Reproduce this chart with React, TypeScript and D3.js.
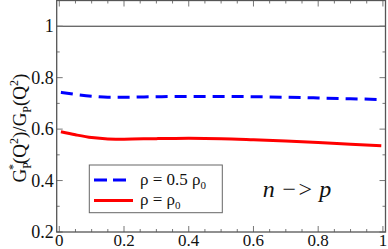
import React from "react";
import * as d3 from "d3";

const xValues = [0.005, 0.05, 0.1, 0.15, 0.2, 0.3, 0.4, 0.5, 0.6, 0.7, 0.8, 0.9, 0.995];
const halfDensity = [0.743, 0.735, 0.728, 0.724, 0.724, 0.726, 0.727, 0.727, 0.726, 0.724, 0.721, 0.718, 0.715];
const fullDensity = [0.59, 0.578, 0.567, 0.562, 0.561, 0.563, 0.564, 0.563, 0.559, 0.554, 0.548, 0.541, 0.535];
const xTicks = [0, 0.2, 0.4, 0.6, 0.8, 1];
const xTickLabels = ["0", "0.2", "0.4", "0.6", "0.8", "1"];
const yTicks = [0.2, 0.4, 0.6, 0.8, 1];
const yTickLabels = ["0.2", "0.4", "0.6", "0.8", "1"];

const W = 388, H = 249;
const L = 56.7, R = 385.5, T = 0.5, B = 232;
const FONT = '"Times New Roman", Times, "Liberation Serif", Tinos, "Nimbus Roman", "Noto Serif", "DejaVu Serif", serif';

export default function App() {
  const x = d3.scaleLinear().domain([-0.008, 1.008]).range([L, R]);
  const y = d3.scaleLinear().domain([0.2, 1.1]).range([B, T]);
  const line = d3.line<number>().x((_, i) => x(xValues[i])).y((d) => y(d)).curve(d3.curveMonotoneX);
  const xMinor = d3.range(0, 1.0001, 0.05);
  const yMinor = d3.range(0.2, 1.1001, 0.1);
  const frame = "#555";
  const ts: React.CSSProperties = { fontFamily: FONT };
  return (
    <svg width={W} height={H} style={{ position: "absolute", left: 0, top: 0, fontFamily: FONT }}>
      <rect x={0} y={0} width={W} height={H} fill="#fff" />
      <line x1={L} x2={R} y1={y(1)} y2={y(1)} stroke="#333" strokeWidth={1} />
      {xMinor.map((v, i) => {
        const major = i % 4 === 0;
        const len = major ? 6 : 3;
        return (
          <g key={"xt" + i} stroke="#777" strokeWidth={1}>
            <line x1={x(v)} x2={x(v)} y1={B} y2={B - len} />
            <line x1={x(v)} x2={x(v)} y1={T} y2={T + len} />
          </g>
        );
      })}
      {yMinor.map((v, i) => {
        const major = i % 2 === 0;
        const len = major ? 6 : 3;
        return (
          <g key={"yt" + i} stroke="#777" strokeWidth={1}>
            <line x1={L} x2={L + len} y1={y(v)} y2={y(v)} />
            <line x1={R} x2={R - len} y1={y(v)} y2={y(v)} />
          </g>
        );
      })}
      <path d={line(halfDensity) || ""} fill="none" stroke="#0000ff" strokeWidth={3} strokeDasharray="12 7" />
      <path d={line(fullDensity) || ""} fill="none" stroke="#ff0000" strokeWidth={3} />
      <rect x={L} y={T} width={R - L} height={B - T} fill="none" stroke={frame} strokeWidth={1.3} />
      {xTicks.map((v, i) => (
        <text key={"xl" + i} x={x(v)} y={246} textAnchor="middle" fontSize={17} fill="#111" style={ts}>
          {xTickLabels[i]}
        </text>
      ))}
      {yTicks.map((v, i) => (
        <text key={"yl" + i} x={L - 3} y={y(v) + 6} textAnchor="end" fontSize={18} fill="#111" style={ts}>
          {yTickLabels[i]}
        </text>
      ))}
      <text transform="translate(26,128) rotate(-90)" textAnchor="middle" fontSize={19} fill="#111" style={ts}>
        <tspan>G</tspan>
        <tspan fontSize={12} dy={5}>P</tspan>
        <tspan fontSize={12} dx={-8} dy={-14}>*</tspan>
        <tspan dy={9}>(Q</tspan>
        <tspan fontSize={12} dy={-8}>2</tspan>
        <tspan dy={8}>)/G</tspan>
        <tspan fontSize={12} dy={5}>P</tspan>
        <tspan dy={-5}>(Q</tspan>
        <tspan fontSize={12} dy={-8}>2</tspan>
        <tspan dy={8}>)</tspan>
      </text>
      <rect x={89.3} y={165} width={133} height={47.7} fill="#fff" stroke="#666" strokeWidth={1} />
      <line x1={94} x2={130} y1={180} y2={180} stroke="#0000ff" strokeWidth={3} strokeDasharray="13 6" />
      <line x1={94} x2={133} y1={200.5} y2={200.5} stroke="#ff0000" strokeWidth={3} />
      <text x={140} y={185} fontSize={17} fill="#111" style={ts}>
        {"ρ =  0.5 ρ"}<tspan fontSize={11} dy={4}>0</tspan>
      </text>
      <text x={140} y={205} fontSize={17} fill="#111" style={ts}>
        {"ρ =  ρ"}<tspan fontSize={11} dy={4}>0</tspan>
      </text>
      <text x={297} y={197} textAnchor="middle" fontSize={24} fontStyle="italic" fill="#111" style={ts}>
        {"n −>  p"}
      </text>
    </svg>
  );
}
